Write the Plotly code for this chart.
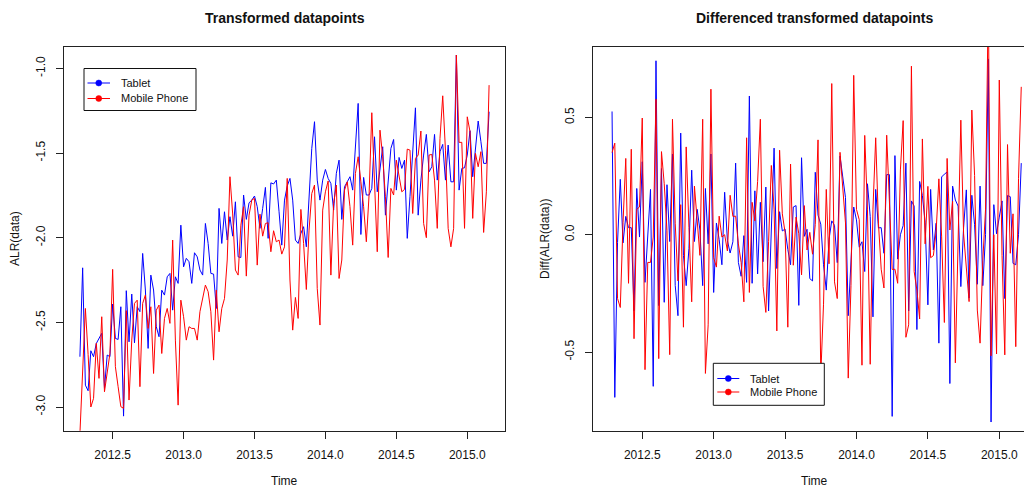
import numpy as np
import plotly.graph_objects as go

# Weekly series (frequency 52) starting in week 15 of 2012
start_year = 2012
start_week = 15
frequency = 52

# Additive log-ratio transformed shares
tablet = [
    -2.703, -2.178, -2.871, -2.904, -2.668, -2.703, -2.625, -2.595, -2.565, -2.890,
    -2.693, -2.703, -2.392, -2.595, -2.601, -2.408, -3.054, -2.313, -2.615, -2.333,
    -2.621, -2.408, -2.437, -2.093, -2.309, -2.654, -2.221, -2.309, -2.526, -2.585,
    -2.310, -2.339, -2.231, -2.211, -2.428, -2.231, -2.270, -1.926, -2.172, -2.122,
    -2.142, -2.270, -2.089, -2.113, -2.191, -2.221, -1.916, -2.034, -2.211, -2.215,
    -2.418, -1.827, -2.034, -1.847, -2.014, -1.876, -1.991, -1.788, -2.113, -2.117,
    -1.748, -1.892, -1.794, -1.778, -1.754, -1.817, -1.945, -1.827, -1.703, -2.004,
    -1.676, -1.683, -1.660, -1.847, -2.044, -1.778, -1.695, -1.650, -1.778, -2.014,
    -2.034, -1.975, -1.935, -2.054, -1.719, -1.473, -1.315, -1.660, -1.778, -1.660,
    -1.597, -1.650, -1.680, -1.837, -1.620, -1.542, -1.892, -1.699, -1.670, -1.640,
    -1.719, -1.463, -1.207, -1.981, -1.644, -1.748, -1.748, -1.709, -1.404, -1.729,
    -1.585, -1.463, -1.867, -1.640, -1.473, -1.420, -1.719, -1.526, -1.591, -1.542,
    -2.004, -1.758, -1.500, -1.233, -1.867, -1.660, -1.512, -1.390, -1.611, -1.581,
    -1.390, -1.660, -1.492, -1.449, -1.660, -1.453, -1.670, -1.670, -0.921, -1.719,
    -1.591, -1.587, -1.512, -1.368, -1.640, -1.473, -1.311, -1.433, -1.561, -1.561,
    -1.256,
]

mobile_phone = [
    -3.158, -2.808, -2.418, -2.690, -3.000, -2.949, -2.624, -2.831, -2.467, -2.910,
    -2.802, -2.684, -2.187, -2.762, -2.880, -2.998, -3.008, -2.431, -2.959, -2.605,
    -2.388, -2.369, -2.880, -2.388, -2.339, -2.536, -2.408, -2.802, -2.428, -2.398,
    -2.684, -2.477, -2.418, -2.506, -2.014, -2.605, -2.989, -2.369, -2.467, -2.605,
    -2.526, -2.536, -2.536, -2.605, -2.437, -2.359, -2.280, -2.319, -2.437, -2.723,
    -2.310, -2.556, -2.418, -2.359, -2.132, -1.640, -1.860, -2.191, -2.221, -1.926,
    -1.817, -2.227, -1.867, -1.778, -1.768, -2.162, -1.861, -1.991, -1.916, -1.912,
    -2.083, -1.959, -2.024, -2.014, -2.097, -2.054, -1.650, -2.250, -2.546, -2.353,
    -2.477, -1.833, -2.034, -2.306, -1.955, -1.739, -1.689, -2.300, -2.516, -1.837,
    -1.729, -1.665, -2.221, -1.798, -1.689, -2.241, -2.132, -1.719, -1.670, -1.817,
    -2.044, -1.620, -1.522, -1.670, -1.817, -2.024, -1.748, -1.262, -1.699, -2.083,
    -1.365, -1.522, -1.758, -2.117, -1.709, -1.748, -1.542, -1.640, -1.729, -1.715,
    -1.477, -1.483, -1.857, -1.532, -1.512, -1.370, -1.916, -2.000, -1.512, -1.508,
    -1.660, -1.945, -1.414, -1.162, -1.483, -1.945, -2.054, -1.945, -0.921, -1.437,
    -1.437, -1.945, -1.286, -1.374, -1.886, -1.502, -1.581, -1.492, -1.969, -1.729,
    -1.099,
]

series_names = ["Tablet", "Mobile Phone"]
series_colors = ["#0000FF", "#FF0000"]

x_ticks = [2012.5, 2013.0, 2013.5, 2014.0, 2014.5, 2015.0]
x_tick_labels = ["2012.5", "2013.0", "2013.5", "2014.0", "2014.5", "2015.0"]
y_ticks_left = [-3.0, -2.5, -2.0, -1.5, -1.0]
y_tick_labels_left = ["-3.0", "-2.5", "-2.0", "-1.5", "-1.0"]
y_ticks_right = [-0.5, 0.0, 0.5]
y_tick_labels_right = ["-0.5", "0.0", "0.5"]

# ---------------------------------------------------------------------------
n = len(tablet)
time = start_year + (start_week - 1 + np.arange(n)) / frequency
levels = [np.array(tablet), np.array(mobile_phone)]
# first differences belong to the second time stamp onwards
diffs = [np.diff(v) for v in levels]
time_diff = time[1:]

W, H = 1024, 487
FONT = "Liberation Sans, Arial, Helvetica, sans-serif"


def fx(px):
    return px / W


def fy(py):
    return 1 - py / H


fig = go.Figure()

for name, color, vals in zip(series_names, series_colors, levels):
    fig.add_trace(go.Scatter(x=time, y=vals, mode="lines", name=name,
                             line=dict(color=color, width=1),
                             xaxis="x", yaxis="y", showlegend=False))

for name, color, vals in zip(series_names, series_colors, diffs):
    fig.add_trace(go.Scatter(x=time_diff, y=vals, mode="lines", name=name,
                             line=dict(color=color, width=1),
                             xaxis="x2", yaxis="y2", showlegend=False))

axis_style = dict(showline=True, linecolor="#222222", linewidth=1,
                  ticks="outside", ticklen=7, tickwidth=1, tickcolor="#222222",
                  showgrid=False, zeroline=False,
                  tickfont=dict(family=FONT, size=12, color="#111111"))

plot_top, plot_bottom = 46.7, 430.7

fig.update_layout(
    width=W, height=H, autosize=False,
    margin=dict(l=0, r=0, t=0, b=0),
    paper_bgcolor="white", plot_bgcolor="white",
    xaxis=dict(domain=[fx(64), fx(505)], range=[2012.157, 2015.266],
               tickvals=x_ticks, ticktext=x_tick_labels, mirror=True,
               anchor="y", ticklabelstandoff=6, **axis_style),
    yaxis=dict(domain=[fy(plot_bottom), fy(plot_top)], range=[-3.140, -0.872],
               tickvals=y_ticks_left, ticktext=y_tick_labels_left, mirror=True,
               tickangle=-90, anchor="x", ticklabelstandoff=6, **axis_style),
    xaxis2=dict(domain=[fx(592.7), 1.0], range=[2012.153, 2015.173],
                tickvals=x_ticks, ticktext=x_tick_labels, mirror=True,
                anchor="y2", ticklabelstandoff=6, **axis_style),
    yaxis2=dict(domain=[fy(plot_bottom), fy(plot_top)], range=[-0.835, 0.801],
                tickvals=y_ticks_right, ticktext=y_tick_labels_right, mirror=False,
                tickangle=-90, anchor="x2", ticklabelstandoff=6, **axis_style),
)

annotations = []


def text(px, py, s, size=12, bold=False, angle=0, xanchor="center"):
    annotations.append(dict(
        x=fx(px), y=fy(py), xref="paper", yref="paper",
        text=f"<b>{s}</b>" if bold else s, showarrow=False,
        font=dict(family=FONT, size=size, color="#111111"),
        textangle=angle, xanchor=xanchor, yanchor="middle"))


# panel titles and axis titles
text(284.5, 18, "Transformed datapoints", size=14, bold=True)
text(814, 18, "Differenced transformed datapoints", size=14, bold=True)
text(284.5, 481, "Time")
text(814, 481, "Time")
text(15, 239, "ALR(data)", angle=-90)
text(545, 239, "Diff(ALR(data))", angle=-90)

shapes = []


def legend_box(x0, y0, x1, y1, rows, line_x0, line_x1, text_x):
    shapes.append(dict(type="rect", xref="paper", yref="paper",
                       x0=fx(x0), x1=fx(x1), y0=fy(y1), y1=fy(y0),
                       line=dict(color="#111111", width=1), fillcolor="white",
                       layer="above"))
    mx = (line_x0 + line_x1) / 2
    for ry, name, color in zip(rows, series_names, series_colors):
        shapes.append(dict(type="line", xref="paper", yref="paper",
                           x0=fx(line_x0), x1=fx(line_x1), y0=fy(ry), y1=fy(ry),
                           line=dict(color=color, width=1), layer="above"))
        r = 3
        shapes.append(dict(type="circle", xref="paper", yref="paper",
                           x0=fx(mx - r), x1=fx(mx + r), y0=fy(ry + r), y1=fy(ry - r),
                           line=dict(color=color, width=0.5), fillcolor=color,
                           layer="above"))
        text(text_x, ry, name, size=11, xanchor="left")


legend_box(84, 68.5, 196, 110.5, [83, 98.5], 87.5, 110, 119)
legend_box(713.3, 363.3, 824.3, 405.3, [378.5, 392], 717.3, 739.3, 748)

fig.update_layout(annotations=annotations, shapes=shapes)

fig.write_html("out.html", post_script="document.body.style.margin='0';")
